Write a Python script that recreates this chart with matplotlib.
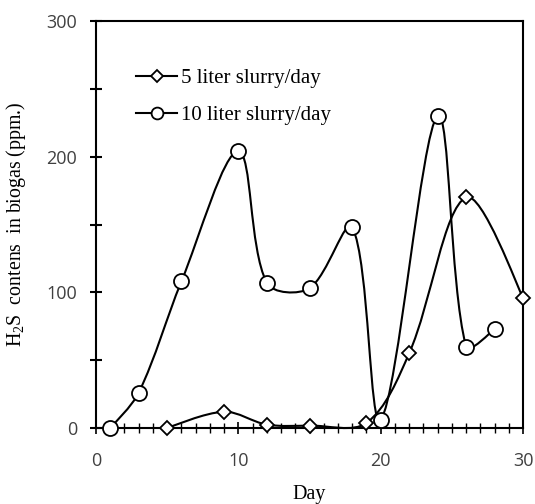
import numpy as np
import matplotlib
matplotlib.use("Agg")
import matplotlib.pyplot as plt
from matplotlib.path import Path
from matplotlib.patches import PathPatch
from matplotlib.lines import Line2D
from matplotlib.ticker import MultipleLocator

# data
days_5 = [5, 9, 12, 15, 19, 22, 26, 30]
h2s_5 = [0, 12, 2.5, 1.8, 3.7, 55, 170, 96]
days_10 = [1, 3, 6, 10, 12, 15, 18, 20, 24, 26, 28]
h2s_10 = [0, 26, 108, 204, 107, 103, 148, 6, 230, 60, 73]
label_5 = "5 liter slurry/day"
label_10 = "10 liter slurry/day"

plt.rcParams['mathtext.fontset'] = 'custom'
plt.rcParams['mathtext.rm'] = 'Liberation Serif'
plt.rcParams['mathtext.it'] = 'Liberation Serif:italic'

fig = plt.figure(figsize=(5.35, 5.04), dpi=100)
ax = fig.add_axes([96/535, 1-428/504, (523-96)/535, (428-21)/504])
ax.set_xlim(0, 30)
ax.set_ylim(0, 300)


def smooth_path(xs, ys):
    # Excel-like smoothed line: cubic Bezier, tangents weighted by segment lengths
    D = ax.transData.transform(np.column_stack([xs, ys]).astype(float))
    n = len(D)
    f = 1.0 / 3.0

    def dist(a, b):
        return np.hypot(*(D[b] - D[a]))

    def tangent(i):
        if i == 0:
            return D[1] - D[0]
        if i == n - 1:
            return D[n - 1] - D[n - 2]
        return D[i + 1] - D[i - 1]

    verts = [D[0]]
    codes = [Path.MOVETO]
    for i in range(n - 1):
        d = dist(i, i + 1)
        w1 = 0.5 if i == 0 else d / (dist(i - 1, i) + d)
        w2 = 0.5 if i + 1 == n - 1 else d / (d + dist(i + 1, i + 2))
        c1 = D[i] + tangent(i) * f * w1 * (0.5 if i == 0 else 1.0)
        c2 = D[i + 1] - tangent(i + 1) * f * w2 * (0.5 if i + 1 == n - 1 else 1.0)
        verts += [c1, c2, D[i + 1]]
        codes += [Path.CURVE4] * 3
    V = ax.transData.inverted().transform(np.array(verts))
    return Path(V, codes)


for xs, ys, mk, ms in [(days_5, h2s_5, 'D', 7.6), (days_10, h2s_10, 'o', 10.8)]:
    ax.add_patch(PathPatch(smooth_path(xs, ys), facecolor='none',
                           edgecolor='black', lw=1.5, zorder=2, clip_on=False))
    ax.plot(xs, ys, linestyle='none', marker=mk, markersize=ms,
            markerfacecolor='white', markeredgecolor='black', markeredgewidth=1.3,
            zorder=3, clip_on=False)

ax.xaxis.set_major_locator(MultipleLocator(10))
ax.xaxis.set_minor_locator(MultipleLocator(1))
ax.yaxis.set_major_locator(MultipleLocator(100))
ax.yaxis.set_minor_locator(MultipleLocator(50))

for sp in ax.spines.values():
    sp.set_linewidth(1.5)
    sp.set_color('black')

ax.tick_params(axis='x', which='major', direction='inout', length=9, width=1.2, pad=13)
ax.tick_params(axis='x', which='minor', direction='inout', length=7, width=1.0)
ax.tick_params(axis='y', which='both', direction='inout', length=9, width=1.5, pad=9)
ax.tick_params(top=False, right=False)

for lab in ax.get_xticklabels() + ax.get_yticklabels():
    lab.set_fontfamily('Open Sans')
    lab.set_fontsize(13)
    lab.set_color('#404040')

ax.set_xlabel('Day', fontfamily='Liberation Serif', fontsize=14.5, va='baseline')
ax.xaxis.set_label_coords(0.5, -0.1744)
ax.set_ylabel('H$_2$S  contens  in biogas (ppm.)', fontfamily='Liberation Serif',
              fontsize=14.3)
ax.yaxis.set_label_coords(-0.159, 0.5)

handles = [
    Line2D([], [], color='black', lw=1.5, marker='D', markersize=6.5,
           markerfacecolor='white', markeredgecolor='black', markeredgewidth=1.3),
    Line2D([], [], color='black', lw=1.5, marker='o', markersize=8.5,
           markerfacecolor='white', markeredgecolor='black', markeredgewidth=1.3),
]
leg = ax.legend(handles, [label_5, label_10], loc='upper left',
                bbox_to_anchor=(0.094, 0.884), frameon=False, handlelength=1.97,
                handletextpad=0.2, labelspacing=0.84, borderpad=0, borderaxespad=0,
                prop={'family': 'Liberation Serif', 'size': 15})

fig.savefig('out.png', dpi=100)
